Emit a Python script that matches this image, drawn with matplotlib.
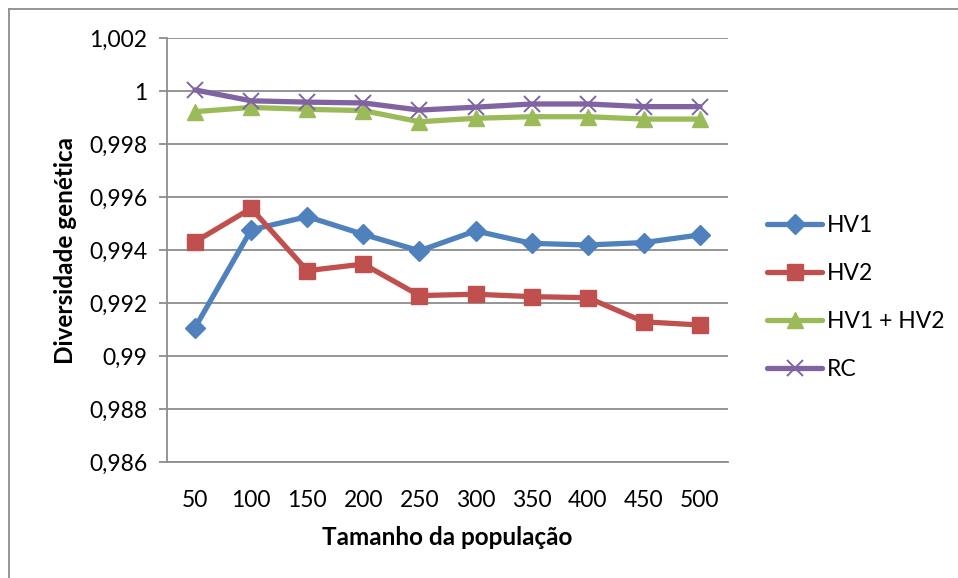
import matplotlib
matplotlib.use('Agg')
import matplotlib.pyplot as plt
from matplotlib.lines import Line2D
from matplotlib.ticker import FuncFormatter

plt.rcParams['font.family'] = ['Lato', 'DejaVu Sans']

populacao = ['50', '100', '150', '200', '250', '300', '350', '400', '450', '500']
hv1 = [0.99107, 0.99476, 0.99526, 0.99459, 0.99397, 0.99472, 0.99425, 0.99419, 0.99428, 0.99457]
hv2 = [0.99431, 0.99557, 0.99322, 0.99347, 0.99228, 0.99233, 0.99224, 0.99220, 0.99129, 0.99117]
hv12 = [0.99922, 0.99938, 0.99931, 0.99926, 0.99884, 0.99897, 0.99903, 0.99903, 0.99894, 0.99894]
rc = [1.00004, 0.99963, 0.99958, 0.99955, 0.99928, 0.99939, 0.99951, 0.99951, 0.99941, 0.99941]

series = [
    ('HV1', hv1, '#4F81BD', 'D', 10),
    ('HV2', hv2, '#C0504D', 's', 11.5),
    ('HV1 + HV2', hv12, '#9BBB59', '^', 11.5),
    ('RC', rc, '#8064A2', 'x', 12),
]

fig = plt.figure(figsize=(9.58, 5.78), dpi=100)
ax = fig.add_axes([167/958, 1 - 462/578, (728-167)/958, (462-38)/578])

x = range(len(populacao))
for name, vals, col, mk, ms in series:
    if mk == 'x':
        ax.plot(x, vals, color=col, lw=3.8, marker=mk, ms=ms, mew=1.4,
                label=name, solid_capstyle='round', zorder=3)
    else:
        ax.plot(x, vals, color=col, lw=3.8, marker=mk, ms=ms, mec=col,
                label=name, solid_capstyle='round', zorder=3)

ax.set_xlim(-0.5, 9.5)
ax.set_ylim(0.986, 1.002)
ax.set_yticks([0.986 + 0.002*i for i in range(9)])
ax.yaxis.set_major_formatter(FuncFormatter(
    lambda v, p: ('%.3f' % v).rstrip('0').rstrip('.').replace('.', ',')))
ax.set_xticks(list(x))
ax.set_xticklabels(populacao)
ax.grid(axis='y', color='#8c8c8c', lw=1.3)
ax.set_axisbelow(True)
for s in ['top', 'right']:
    ax.spines[s].set_visible(False)
for s in ['left', 'bottom']:
    ax.spines[s].set_color('#8c8c8c')
    ax.spines[s].set_linewidth(1.3)
ax.tick_params(axis='y', length=6, width=1.3, color='#8c8c8c', labelsize=16.5, pad=8)
ax.tick_params(axis='x', length=0, labelsize=16.5, pad=20)

ax.set_xlabel('Tamanho da população', fontsize=17.5, fontweight='bold', labelpad=11)
ax.set_ylabel('Diversidade genética', fontsize=17.5, fontweight='bold', labelpad=9)

ax.legend(loc='upper left', bbox_to_anchor=(1.07, 0.582), frameon=False,
          fontsize=16.5, handlelength=2.4, handletextpad=0.2, labelspacing=1.17,
          borderaxespad=0, borderpad=0)

# moldura do gráfico
fig.add_artist(Line2D([9/958, 1], [1 - 9/578, 1 - 9/578], color='#8c8c8c', lw=1.3))
fig.add_artist(Line2D([9/958, 9/958], [0, 1 - 9/578], color='#8c8c8c', lw=1.3))

fig.savefig('out.png', dpi=100)
